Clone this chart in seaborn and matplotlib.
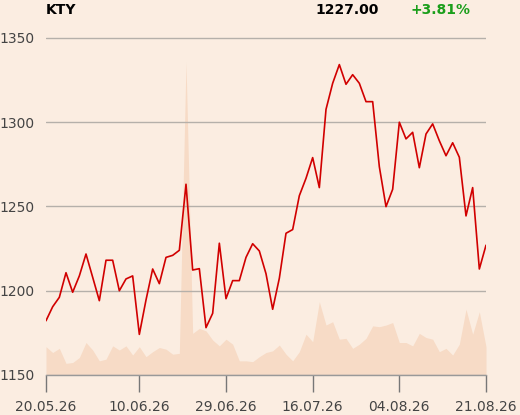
import numpy as np
import pandas as pd
import seaborn as sns
import matplotlib.pyplot as plt

# Price series (close), one value per trading day
close = [1182.2, 1190.5, 1196.1, 1210.7, 1199.1, 1208.8, 1221.8, 1208.0, 1194.1, 1218.1,
         1218.1, 1200.0, 1207.0, 1208.8, 1174.1, 1194.5, 1212.9, 1204.2, 1219.8, 1221.0,
         1224.0, 1263.2, 1212.3, 1213.1, 1178.1, 1186.6, 1228.2, 1195.3, 1206.0, 1206.0,
         1219.8, 1227.9, 1223.6, 1210.1, 1189.0, 1207.4, 1234.1, 1236.3, 1256.4, 1266.7,
         1279.0, 1261.2, 1307.6, 1323.1, 1334.2, 1322.5, 1328.2, 1323.1, 1312.2, 1312.2,
         1273.6, 1249.9, 1260.2, 1300.0, 1290.1, 1294.0, 1273.0, 1293.0, 1299.0, 1289.0,
         1280.1, 1287.8, 1279.2, 1244.4, 1261.2, 1212.9, 1227.0]

# Traded volume (thousands)
volume = [34, 27, 32, 14, 15, 21, 39, 30, 17, 19,
          35, 30, 35, 24, 34, 22, 28, 33, 31, 25,
          26, 376, 50, 56, 53, 42, 35, 43, 37, 17,
          17, 16, 22, 27, 29, 36, 25, 17, 28, 49,
          40, 88, 60, 64, 43, 44, 32, 37, 44, 59,
          58, 60, 63, 39, 39, 35, 50, 45, 43, 28,
          32, 24, 37, 79, 49, 76, 34]

tick_labels = ["20.05.26", "10.06.26", "29.06.26", "16.07.26", "04.08.26", "21.08.26"]
tick_days = [0, 14, 27, 40, 53, 66]
y_ticks = [1150, 1200, 1250, 1300, 1350]

ticker = "KTY"
last_price = "1227.00"
change = "+3.81%"

df = pd.DataFrame({"day": np.arange(len(close)), "close": close, "volume": volume})

bg = "#FBEDE1"
sns.set_theme(style="white", rc={"axes.facecolor": bg, "figure.facecolor": bg})
plt.rcParams["font.family"] = ["DejaVu Sans"]

fig = plt.figure(figsize=(5.2, 4.15), dpi=100)
ax = fig.add_axes([46 / 520, 40 / 415, 440 / 520, 353.9 / 415])
vol_ax = ax.twinx()
ax.set_zorder(vol_ax.get_zorder() + 1)
ax.patch.set_visible(False)
vol_ax.set_facecolor(bg)

# Volume area behind the price
vol_ax.fill_between(df["day"], 0, df["volume"], color="#F7DBC6", linewidth=0)
vol_ax.set_ylim(0, 425)
vol_ax.set_yticks([])
for s in vol_ax.spines.values():
    s.set_visible(False)

# Price line
sns.lineplot(data=df, x="day", y="close", ax=ax, color="#D10000", linewidth=1.2)
ax.set_xlim(0, len(close) - 1)
ax.set_ylim(1150, 1360)
ax.set_yticks(y_ticks)
ax.set_yticklabels([str(v) for v in y_ticks])
ax.set_xticks(tick_days)
ax.set_xticklabels(tick_labels)
ax.set_xlabel("")
ax.set_ylabel("")
ax.grid(axis="y", color="#B5B0AA", linewidth=1)
ax.tick_params(axis="y", length=0, pad=8, labelsize=10, labelcolor="#444444")
ax.tick_params(axis="x", length=12, width=1, color="#777777", pad=6,
               labelsize=10, labelcolor="#444444", bottom=True)
for name, s in ax.spines.items():
    s.set_visible(name == "bottom")
ax.spines["bottom"].set_color("#999999")
ax.spines["bottom"].set_linewidth(1)

# Header
fig.text(46 / 520, 1 - 10 / 415, ticker, fontsize=10, fontweight="bold",
         color="black", va="center", ha="left")
fig.text(379 / 520, 1 - 10 / 415, last_price, fontsize=10, fontweight="bold",
         color="black", va="center", ha="right")
fig.text(471 / 520, 1 - 10 / 415, change, fontsize=10, fontweight="bold",
         color="#1A9E1A", va="center", ha="right")

fig.savefig("out.png", dpi=100, facecolor=bg)
